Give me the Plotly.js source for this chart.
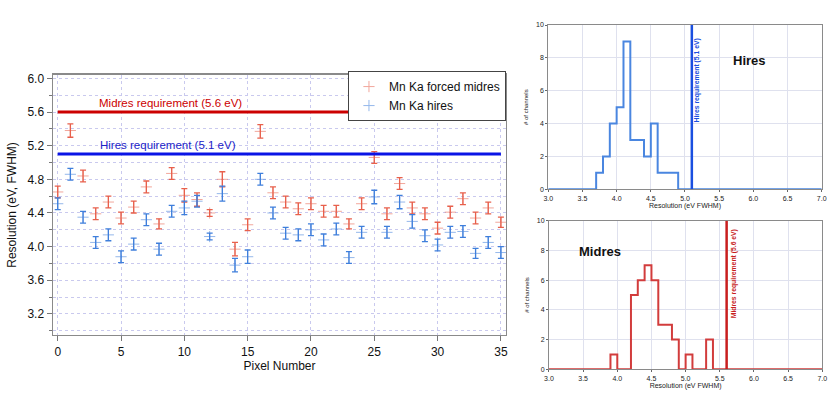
<!DOCTYPE html>
<html>
<head>
<meta charset="utf-8">
<script src="https://cdn.plot.ly/plotly-3.0.1.min.js"></script>
<style>
  html, body { margin: 0; padding: 0; background: #fff; }
  #chart { width: 830px; height: 397px; }
</style>
</head>
<body>
<div id="chart"></div>
<script>
// pixel-by-pixel energy resolution, Mn Ka
var pixels = [0, 1, 2, 3, 4, 5, 6, 7, 8, 9, 10, 11, 12, 13, 14, 15, 16, 17,
              18, 19, 20, 21, 22, 23, 24, 25, 26, 27, 28, 29, 30, 31, 32, 33, 34, 35];
var midresRes = [4.65, 5.38, 4.84, 4.39, 4.53, 4.34, 4.47, 4.71, 4.27, 4.87, 4.61, 4.56,
                 4.40, 4.80, 3.97, 4.26, 5.37, 4.64, 4.53, 4.45, 4.51, 4.42, 4.42, 4.27,
                 4.51, 5.06, 4.39, 4.75, 4.46, 4.39, 4.22, 4.41, 4.57, 4.34, 4.46, 4.29];
var midresErr = [0.07, 0.08, 0.07, 0.07, 0.07, 0.07, 0.07, 0.07, 0.06, 0.07, 0.08, 0.08,
                 0.04, 0.09, 0.08, 0.07, 0.08, 0.07, 0.07, 0.07, 0.07, 0.07, 0.07, 0.06,
                 0.07, 0.07, 0.07, 0.07, 0.07, 0.07, 0.07, 0.07, 0.07, 0.07, 0.07, 0.06];
var hiresRes = [4.51, 4.86, 4.35, 4.05, 4.14, 3.88, 4.03, 4.32, 3.97, 4.42, 4.46, 4.54,
                4.12, 4.63, 3.78, 3.88, 4.80, 4.40, 4.16, 4.14, 4.20, 4.08, 4.21, 3.87,
                4.17, 4.59, 4.17, 4.53, 4.30, 4.13, 4.02, 4.17, 4.18, 3.92, 4.05, 3.93];
var hiresErr = [0.07, 0.07, 0.07, 0.07, 0.07, 0.07, 0.07, 0.07, 0.07, 0.07, 0.08, 0.07,
                0.04, 0.09, 0.08, 0.08, 0.07, 0.07, 0.07, 0.07, 0.07, 0.07, 0.07, 0.07,
                0.07, 0.08, 0.07, 0.08, 0.08, 0.07, 0.07, 0.07, 0.07, 0.06, 0.07, 0.07];

var hiresReq = 5.1;
var midresReq = 5.6;

// histograms: 0.1 eV bins from 3.0 to 7.0
var histStart = 3.0;
var binWidth = 0.1;
var hiresCounts = [0, 0, 0, 0, 0, 0, 0, 1, 2, 4, 5, 9, 3, 3, 2, 4, 1, 1, 1, 0,
                   0, 0, 0, 0, 0, 0, 0, 0, 0, 0, 0, 0, 0, 0, 0, 0, 0, 0, 0, 0];
var midresCounts = [0, 0, 0, 0, 0, 0, 0, 0, 0, 1, 0, 0, 5, 6, 7, 6, 3, 3, 2, 0,
                    1, 0, 0, 2, 0, 0, 0, 0, 0, 0, 0, 0, 0, 0, 0, 0, 0, 0, 0, 0];

var RED = '#e8604c';
var BLUE = '#3f7fdc';

function binEdges(n){
  var e = [];
  for (var i = 0; i <= n; i++) e.push(Math.round((histStart + i * binWidth) * 10) / 10);
  return e;
}

var traces = [
  {
    x: pixels, y: midresRes, name: 'Mn Ka forced midres',
    type: 'scatter', mode: 'markers', xaxis: 'x', yaxis: 'y',
    marker: {symbol: 'cross-thin', size: 8, color: RED, line: {color: RED, width: 1}, opacity: 0.55},
    error_y: {type: 'data', array: midresErr, visible: true, color: RED, thickness: 1.3, width: 3}
  },
  {
    x: pixels, y: hiresRes, name: 'Mn Ka hires',
    type: 'scatter', mode: 'markers', xaxis: 'x', yaxis: 'y',
    marker: {symbol: 'cross-thin', size: 8, color: BLUE, line: {color: BLUE, width: 1}, opacity: 0.55},
    error_y: {type: 'data', array: hiresErr, visible: true, color: BLUE, thickness: 1.3, width: 3}
  },
  {
    x: binEdges(hiresCounts.length), y: hiresCounts.concat([0]),
    type: 'scatter', mode: 'lines', xaxis: 'x2', yaxis: 'y2', showlegend: false,
    line: {shape: 'hv', color: '#4a86e0', width: 2}, hoverinfo: 'skip'
  },
  {
    x: binEdges(midresCounts.length), y: midresCounts.concat([0]),
    type: 'scatter', mode: 'lines', xaxis: 'x3', yaxis: 'y3', showlegend: false,
    line: {shape: 'hv', color: '#d23c3c', width: 2}, hoverinfo: 'skip'
  }
];

var histX = {
  range: [3.0, 7.0], dtick: 0.5, tick0: 0, tickformat: '.1f',
  ticks: 'outside', ticklen: 2, tickcolor: '#666',
  showline: true, linecolor: '#8a8a8a', linewidth: 1, mirror: true,
  showgrid: true, gridcolor: '#dfe1ee', zeroline: false,
  tickfont: {size: 7, color: '#222'},
  title: {text: 'Resolution (eV FWHM)', font: {size: 7, color: '#222'}, standoff: 2}
};
var histY = {
  range: [0, 10], dtick: 2, ticks: 'outside', ticklen: 2, tickcolor: '#666',
  showline: true, linecolor: '#8a8a8a', linewidth: 1, mirror: true,
  showgrid: true, gridcolor: '#dfe1ee', zeroline: false,
  tickfont: {size: 7, color: '#222'},
  title: {text: '# of channels', font: {size: 6, color: '#222'}, standoff: 6}
};

var layout = {
  width: 830, height: 397,
  margin: {l: 0, r: 0, t: 0, b: 0},
  paper_bgcolor: '#fff', plot_bgcolor: '#fff',
  font: {family: 'Liberation Sans, Arial, sans-serif', color: '#222'},
  showlegend: true,
  legend: {
    x: 0.6096, xanchor: 'right', y: 0.821, yanchor: 'top',
    bgcolor: '#fff', bordercolor: '#444', borderwidth: 1,
    font: {size: 12, color: '#111'}, tracegroupgap: 0, itemwidth: 30
  },
  xaxis: {
    domain: [0.0639, 0.6096], range: [-0.37, 35.4], anchor: 'y',
    dtick: 5, tick0: 0, ticks: 'outside', ticklen: 5, tickcolor: '#777',
    showline: true, linecolor: '#8a8a8a', linewidth: 1.5, mirror: true,
    showgrid: true, gridcolor: '#c9c9ee', griddash: 'dot', zeroline: false,
    tickfont: {size: 12, color: '#111'},
    title: {text: 'Pixel Number', font: {size: 12, color: '#111'}, standoff: 2}
  },
  yaxis: {
    domain: [0.1562, 0.8111], range: [2.95, 6.04], anchor: 'x',
    dtick: 0.4, tick0: 0, tickformat: '.1f', ticks: 'outside', ticklen: 5, tickcolor: '#777',
    showline: true, linecolor: '#8a8a8a', linewidth: 1.5, mirror: true,
    showgrid: true, gridcolor: '#c9c9ee', griddash: 'dot', zeroline: false,
    minor: {dtick: 0.2, ticks: 'outside', ticklen: 3, tickcolor: '#777',
            showgrid: true, gridcolor: '#c9c9ee', griddash: 'dot'},
    tickfont: {size: 12, color: '#111'},
    title: {text: 'Resolution (eV, FWHM)', font: {size: 12, color: '#111'}, standoff: 8}
  },
  xaxis2: Object.assign({}, histX, {domain: [0.6606, 0.99], anchor: 'y2'}),
  yaxis2: Object.assign({}, histY, {domain: [0.5232, 0.937], anchor: 'x2'}),
  xaxis3: Object.assign({}, histX, {domain: [0.6614, 0.9907], anchor: 'y3'}),
  yaxis3: Object.assign({}, histY, {domain: [0.0698, 0.4441], anchor: 'x3'}),
  shapes: [
    {type: 'line', xref: 'x', yref: 'y', x0: pixels[0], x1: pixels[pixels.length - 1],
     y0: midresReq, y1: midresReq, line: {color: '#cc0000', width: 3}},
    {type: 'line', xref: 'x', yref: 'y', x0: pixels[0], x1: pixels[pixels.length - 1],
     y0: hiresReq, y1: hiresReq, line: {color: '#0a14e6', width: 3}},
    {type: 'line', xref: 'x2', yref: 'y2', x0: hiresReq, x1: hiresReq, y0: 0, y1: 10,
     line: {color: '#1a4fe0', width: 2.5}},
    {type: 'line', xref: 'x3', yref: 'y3', x0: midresReq, x1: midresReq, y0: 0, y1: 10,
     line: {color: '#c81e1e', width: 2.5}}
  ],
  annotations: [
    {xref: 'x', yref: 'y', x: 8.9, y: midresReq, yanchor: 'bottom', yshift: 1, showarrow: false,
     text: 'Midres requirement (5.6 eV)', font: {size: 11.5, color: '#cc0000'}},
    {xref: 'x', yref: 'y', x: 8.7, y: hiresReq, yanchor: 'bottom', yshift: 1, showarrow: false,
     text: 'Hires requirement (5.1 eV)', font: {size: 11.5, color: '#1a22c8'}},
    {xref: 'x2', yref: 'y2', x: 5.17, y: 6.6, showarrow: false, textangle: -90,
     text: '<b>Hires requirement (5.1 eV)</b>', font: {size: 6.8, color: '#1a4fe0'}},
    {xref: 'x3', yref: 'y3', x: 5.72, y: 6.45, showarrow: false, textangle: -90,
     text: '<b>Midres requirement (5.6 eV)</b>', font: {size: 6.8, color: '#c81e1e'}},
    {xref: 'x2', yref: 'y2', x: 5.95, y: 7.87, showarrow: false,
     text: '<b>Hires</b>', font: {size: 13, color: '#111'}},
    {xref: 'x3', yref: 'y3', x: 3.75, y: 7.9, showarrow: false,
     text: '<b>Midres</b>', font: {size: 13, color: '#111'}}
  ]
};

Plotly.newPlot('chart', traces, layout, {displayModeBar: false, staticPlot: true});
</script>
</body>
</html>
